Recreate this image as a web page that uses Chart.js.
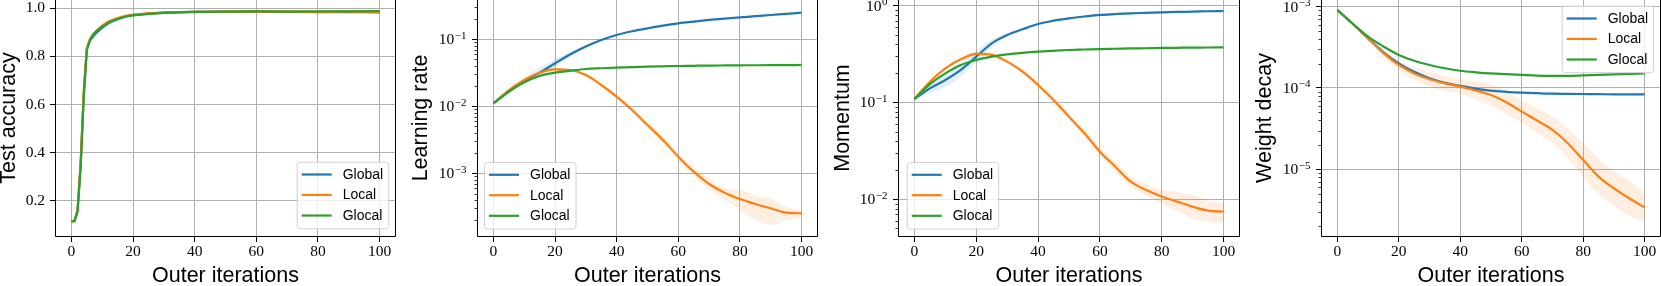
<!DOCTYPE html>
<html>
<head>
<meta charset="utf-8">
<script src="https://cdn.jsdelivr.net/npm/chart.js@4.4.1/dist/chart.umd.min.js"></script>
<style>
  html, body { margin: 0; padding: 0; background: #fff; overflow: hidden; width: 1661px; height: 286px; }
  canvas { position: absolute; top: 0; }
</style>
</head>
<body>
<canvas id="accChart"></canvas>
<canvas id="lrChart"></canvas>
<canvas id="momChart"></canvas>
<canvas id="wdChart"></canvas>
<script>
// ---- data ----
const seriesNames = ['Global', 'Local', 'Glocal'];
const seriesColors = ['#1f77b4', '#ff7f0e', '#2ca02c'];
const bandColors = ['rgba(31,119,180,0.12)', 'rgba(255,127,14,0.12)', 'rgba(44,160,44,0.12)'];

const xTicks = [0, 20, 40, 60, 80, 100];
const accTicks = [0.2, 0.4, 0.6, 0.8, 1.0];
const lrTicks = [1e-3, 1e-2, 1e-1];
const momTicks = [1e-2, 1e-1, 1e0];
const wdTicks = [1e-5, 1e-4, 1e-3];

// test accuracy
const accIters = [0, 1, 2, 3, 4, 5, 6, 7, 8, 10, 12, 14, 16, 18, 20, 25, 30, 35, 40, 50, 60, 70, 80, 90, 100];
const accGlobal = [0.115, 0.115, 0.16, 0.35, 0.64, 0.83, 0.865, 0.882, 0.897, 0.92, 0.938, 0.95, 0.96, 0.967, 0.972, 0.978, 0.982, 0.984, 0.985, 0.986, 0.986, 0.985, 0.984, 0.985, 0.983];
const accLocal = [0.115, 0.115, 0.16, 0.36, 0.66, 0.835, 0.872, 0.893, 0.906, 0.928, 0.945, 0.955, 0.964, 0.97, 0.974, 0.979, 0.982, 0.984, 0.985, 0.986, 0.986, 0.986, 0.985, 0.986, 0.985];
const accGlocal = [0.115, 0.115, 0.155, 0.34, 0.63, 0.827, 0.868, 0.889, 0.903, 0.924, 0.94, 0.951, 0.96, 0.967, 0.971, 0.977, 0.981, 0.983, 0.985, 0.986, 0.987, 0.986, 0.987, 0.987, 0.988];

// hyperparameter traces
const hpIters = [0, 5, 10, 15, 20, 25, 30, 35, 40, 45, 50, 55, 60, 65, 70, 75, 80, 85, 90, 95, 100];

const lrGlobal = [0.01109, 0.01656, 0.02388, 0.03177, 0.04385, 0.05970, 0.07780, 0.09772, 0.1161, 0.1318, 0.1459, 0.1603, 0.1734, 0.1841, 0.1945, 0.2042, 0.2128, 0.2213, 0.2307, 0.2399, 0.2500];
const lrGlobalLow = [0.01109, 0.01581, 0.02128, 0.02704, 0.03819, 0.05445, 0.07430, 0.09550, 0.1135, 0.1288, 0.1426, 0.1567, 0.1694, 0.1799, 0.1901, 0.1995, 0.2080, 0.2163, 0.2254, 0.2344, 0.2443];
const lrGlobalHigh = [0.01109, 0.01734, 0.02679, 0.03733, 0.05035, 0.06546, 0.08147, 0.1000, 0.1189, 0.1349, 0.1493, 0.1641, 0.1774, 0.1884, 0.1991, 0.2089, 0.2178, 0.2265, 0.2360, 0.2455, 0.2559];
const lrLocal = [0.01109, 0.01738, 0.02472, 0.03177, 0.03565, 0.03483, 0.02938, 0.02080, 0.01393, 0.008810, 0.005260, 0.003148, 0.001774, 0.001059, 0.0006934, 0.0005140, 0.0004140, 0.0003483, 0.0003006, 0.0002588, 0.0002529];
const lrLocalLow = [0.01109, 0.01698, 0.02388, 0.03034, 0.03404, 0.03327, 0.02805, 0.01963, 0.01300, 0.008035, 0.004688, 0.002742, 0.001545, 0.0009016, 0.0005768, 0.0003999, 0.0002838, 0.0002009, 0.0001694, 0.0002009, 0.0002254];
const lrLocalHigh = [0.01109, 0.01778, 0.02559, 0.03327, 0.03733, 0.03648, 0.03076, 0.02203, 0.01493, 0.009661, 0.005902, 0.003614, 0.002037, 0.001245, 0.0008337, 0.0005970, 0.0005636, 0.0004753, 0.0004236, 0.0003177, 0.0002838];
const lrGlocal = [0.01109, 0.01660, 0.02291, 0.02838, 0.03177, 0.03404, 0.03606, 0.03698, 0.03776, 0.03846, 0.03908, 0.03954, 0.03999, 0.04027, 0.04055, 0.04074, 0.04093, 0.04102, 0.04111, 0.04121, 0.04140];

const momGlobal = [0.1086, 0.1400, 0.1706, 0.2168, 0.2972, 0.4083, 0.4977, 0.5702, 0.6471, 0.6998, 0.7396, 0.7727, 0.8017, 0.8185, 0.8337, 0.8433, 0.8531, 0.8610, 0.8670, 0.8750, 0.8810];
const momGlobalLow = [0.1086, 0.1247, 0.1452, 0.1845, 0.2588, 0.3724, 0.4753, 0.5572, 0.6324, 0.6839, 0.7228, 0.7551, 0.7834, 0.7998, 0.8147, 0.8241, 0.8337, 0.8414, 0.8472, 0.8551, 0.8610];
const momGlobalHigh = [0.1086, 0.1570, 0.2004, 0.2547, 0.3412, 0.4477, 0.5212, 0.5834, 0.6622, 0.7161, 0.7568, 0.7907, 0.8204, 0.8375, 0.8531, 0.8630, 0.8730, 0.8810, 0.8872, 0.8954, 0.9016];
const momLocal = [0.1086, 0.1641, 0.2254, 0.2793, 0.3170, 0.3097, 0.2642, 0.2080, 0.1517, 0.1062, 0.07145, 0.04808, 0.03105, 0.02173, 0.01521, 0.01247, 0.01067, 0.009462, 0.008395, 0.007638, 0.007464];
const momLocalLow = [0.1086, 0.1603, 0.2178, 0.2667, 0.3027, 0.2958, 0.2523, 0.1986, 0.1432, 0.09908, 0.06668, 0.04436, 0.02831, 0.01936, 0.01355, 0.01086, 0.008954, 0.007464, 0.006368, 0.005875, 0.005649];
const momLocalHigh = [0.1086, 0.1679, 0.2333, 0.2924, 0.3319, 0.3243, 0.2767, 0.2178, 0.1607, 0.1138, 0.07656, 0.05212, 0.03404, 0.02438, 0.01706, 0.01432, 0.01247, 0.01199, 0.01109, 0.009840, 0.009099];
const momGlocal = [0.1086, 0.1549, 0.2000, 0.2438, 0.2748, 0.2972, 0.3141, 0.3258, 0.3350, 0.3420, 0.3483, 0.3524, 0.3565, 0.3589, 0.3614, 0.3631, 0.3656, 0.3673, 0.3690, 0.3698, 0.3715];

const wdGlobal = [9.10e-4, 6.17e-4, 4.08e-4, 2.75e-4, 2.01e-4, 1.58e-4, 1.32e-4, 1.16e-4, 1.06e-4, 9.84e-5, 9.27e-5, 8.97e-5, 8.77e-5, 8.63e-5, 8.51e-5, 8.47e-5, 8.43e-5, 8.39e-5, 8.36e-5, 8.36e-5, 8.36e-5];
const wdLocal = [9.10e-4, 6.17e-4, 4.08e-4, 2.69e-4, 1.92e-4, 1.51e-4, 1.28e-4, 1.14e-4, 1.04e-4, 9.33e-5, 8.20e-5, 6.67e-5, 5.12e-5, 3.98e-5, 3.05e-5, 2.09e-5, 1.30e-5, 8.13e-6, 5.83e-6, 4.40e-6, 3.41e-6];
const wdLocalLow = [9.10e-4, 6.03e-4, 3.90e-4, 2.45e-4, 1.67e-4, 1.26e-4, 1.04e-4, 9.27e-5, 8.43e-5, 7.24e-5, 6.08e-5, 4.83e-5, 3.71e-5, 2.82e-5, 2.11e-5, 1.38e-5, 8.04e-6, 4.90e-6, 3.52e-6, 2.71e-6, 2.19e-6];
const wdLocalHigh = [9.10e-4, 6.31e-4, 4.28e-4, 2.95e-4, 2.20e-4, 1.82e-4, 1.57e-4, 1.40e-4, 1.28e-4, 1.20e-4, 1.11e-4, 9.20e-5, 7.06e-5, 5.62e-5, 4.41e-5, 3.16e-5, 2.11e-5, 1.35e-5, 9.68e-6, 7.13e-6, 5.13e-6];
const wdGlocal = [9.10e-4, 6.17e-4, 4.28e-4, 3.24e-4, 2.55e-4, 2.16e-4, 1.92e-4, 1.75e-4, 1.63e-4, 1.56e-4, 1.51e-4, 1.48e-4, 1.45e-4, 1.42e-4, 1.41e-4, 1.41e-4, 1.43e-4, 1.45e-4, 1.47e-4, 1.49e-4, 1.51e-4];

// ---- drawing ----
const SERIF = '"Liberation Serif", "DejaVu Serif", serif';
const SANS = '"Liberation Sans", Arial, sans-serif';
const CANVAS_H = 287;
const PLOT_BOTTOM = 236;

const toPoints = (xs, ys) => xs.map((x, i) => ({ x, y: ys[i] }));

// spines, log minor ticks, mathtext-like log labels and the boxed legend
const frameAndLegend = {
  id: 'frameAndLegend',
  afterDraw(chart, args, opts) {
    const { ctx, chartArea: a } = chart;
    const ys = chart.scales.y;
    ctx.save();

    if (ys.type === 'logarithmic') {
      ctx.strokeStyle = '#000';
      ctx.lineWidth = 0.8;
      const lo = Math.floor(Math.log10(ys.min));
      const hi = Math.ceil(Math.log10(ys.max));
      for (let e = lo; e < hi; e++) {
        for (let k = 2; k < 10; k++) {
          const v = k * Math.pow(10, e);
          if (v < ys.min || v > ys.max) continue;
          const py = Math.round(ys.getPixelForValue(v)) + 0.5;
          ctx.beginPath();
          ctx.moveTo(a.left - 3.5, py);
          ctx.lineTo(a.left, py);
          ctx.stroke();
        }
      }
      ctx.fillStyle = '#000';
      ctx.textAlign = 'right';
      ctx.textBaseline = 'alphabetic';
      ys.ticks.forEach(t => {
        const py = ys.getPixelForValue(t.value);
        const exp = Math.round(Math.log10(t.value));
        const sup = (exp < 0 ? '\u2212' : '') + Math.abs(exp);
        const right = a.left - 11.5;
        ctx.font = '11px ' + SERIF;
        ctx.fillText(sup, right, py - 0.5);
        const sw = ctx.measureText(sup).width;
        ctx.font = '15.5px ' + SERIF;
        ctx.fillText('10', right - sw - 0.5, py + 5);
      });
    }

    // spines (top one falls outside the picture)
    ctx.strokeStyle = '#000';
    ctx.lineWidth = 1;
    ctx.beginPath();
    ctx.moveTo(a.left - 0.5, a.top);
    ctx.lineTo(a.left - 0.5, a.bottom + 0.5);
    ctx.lineTo(a.right + 0.5, a.bottom + 0.5);
    ctx.lineTo(a.right + 0.5, a.top);
    ctx.stroke();

    // legend
    const lg = opts.legend;
    const bx = a.left + lg.left, by = a.top + lg.top, bw = 91.5, bh = 66.5;
    ctx.beginPath();
    ctx.roundRect(bx + 0.5, by + 0.5, bw, bh, 3);
    ctx.fillStyle = 'rgba(255,255,255,0.8)';
    ctx.fill();
    ctx.strokeStyle = '#d0d0d0';
    ctx.lineWidth = 1;
    ctx.stroke();
    const rows = [12.8, 33.2, 53.8];
    ctx.font = '14px ' + SANS;
    ctx.textAlign = 'left';
    ctx.textBaseline = 'middle';
    seriesNames.forEach((name, i) => {
      const ry = by + rows[i];
      ctx.strokeStyle = seriesColors[i];
      ctx.lineWidth = 2.2;
      ctx.beginPath();
      ctx.moveTo(bx + 5, ry);
      ctx.lineTo(bx + 35, ry);
      ctx.stroke();
      ctx.fillStyle = '#000';
      ctx.fillText(name, bx + 46, ry + 0.5);
    });
    ctx.restore();
  }
};

function createPanel(config) {
  const {
    canvasId,
    left,
    width,
    yAxisWidth,
    titlePad,
    yType,
    yMin,
    yMax,
    yTicks,
    yTitle,
    xs,
    lines,
    bands = [],
    legend,
    smooth = true
  } = config;

  const canvas = document.getElementById(canvasId);
  canvas.width = width;
  canvas.height = CANVAS_H;
  canvas.style.left = left + 'px';

  const interp = smooth ? { cubicInterpolationMode: 'monotone' } : { tension: 0 };
  const datasets = [];

  bands.forEach(b => {
    datasets.push({
      data: toPoints(xs, b.low),
      borderColor: 'transparent',
      borderWidth: 0,
      pointRadius: 0,
      fill: false,
      order: 10,
      ...interp
    });
    datasets.push({
      data: toPoints(xs, b.high),
      borderColor: 'transparent',
      borderWidth: 0,
      pointRadius: 0,
      backgroundColor: bandColors[b.series],
      fill: '-1',
      order: 10,
      ...interp
    });
  });

  lines.forEach((ys, i) => {
    datasets.push({
      label: seriesNames[i],
      data: toPoints(xs, ys),
      borderColor: seriesColors[i],
      borderWidth: 2.2,
      pointRadius: 0,
      fill: false,
      order: 3 - i,
      ...interp
    });
  });

  const isLog = yType === 'logarithmic';

  return new Chart(canvas, {
    type: 'line',
    data: { datasets },
    options: {
      responsive: false,
      animation: false,
      devicePixelRatio: 1,
      layout: { padding: { top: 0, right: 1, bottom: 0, left: 0 } },
      plugins: {
        legend: { display: false },
        tooltip: { enabled: false },
        frameAndLegend: { legend }
      },
      scales: {
        x: {
          type: 'linear',
          min: -5,
          max: 105,
          afterBuildTicks: s => { s.ticks = xTicks.map(v => ({ value: v })); },
          afterFit: s => { s.height = CANVAS_H - PLOT_BOTTOM; s.paddingLeft = 0; s.paddingRight = 0; },
          ticks: {
            autoSkip: false,
            maxRotation: 0,
            padding: 1,
            color: '#000',
            font: { family: SERIF, size: 15.5 }
          },
          grid: { color: '#b0b0b0', lineWidth: 1, tickColor: '#000', tickLength: 6, tickWidth: 1 },
          border: { display: false },
          title: {
            display: true,
            text: 'Outer iterations',
            color: '#000',
            font: { family: SANS, size: 21.5, lineHeight: 1 },
            padding: { top: 0, bottom: 0 }
          }
        },
        y: {
          type: yType,
          min: yMin,
          max: yMax,
          afterBuildTicks: s => { s.ticks = yTicks.map(v => ({ value: v })); },
          afterFit: s => { s.width = yAxisWidth; s.paddingTop = 0; s.paddingBottom = 0; },
          ticks: {
            display: !isLog,
            autoSkip: false,
            padding: 5,
            color: '#000',
            font: { family: SERIF, size: 15.5 },
            callback: v => Number(v).toFixed(1)
          },
          grid: { color: '#b0b0b0', lineWidth: 1, tickColor: '#000', tickLength: 6, tickWidth: 1 },
          border: { display: false },
          title: {
            display: true,
            text: yTitle,
            color: '#000',
            font: { family: SANS, size: 21.5, lineHeight: 1 },
            padding: { top: titlePad, bottom: 0 }
          }
        }
      }
    },
    plugins: [frameAndLegend]
  });
}

createPanel({
  canvasId: 'accChart',
  left: 0, width: 396, yAxisWidth: 56, titlePad: -2,
  yType: 'linear', yMin: 0.0528, yMax: 1.0347, yTicks: accTicks,
  yTitle: 'Test accuracy',
  xs: accIters,
  lines: [accGlobal, accLocal, accGlocal],
  legend: { left: 240.7, top: 161.7 },
  smooth: false
});

createPanel({
  canvasId: 'lrChart',
  left: 410, width: 408, yAxisWidth: 68, titlePad: 0,
  yType: 'logarithmic', yMin: 1.161e-4, yMax: 0.386, yTicks: lrTicks,
  yTitle: 'Learning rate',
  xs: hpIters,
  lines: [lrGlobal, lrLocal, lrGlocal],
  bands: [
    { series: 0, low: lrGlobalLow, high: lrGlobalHigh },
    { series: 1, low: lrLocalLow, high: lrLocalHigh }
  ],
  legend: { left: 6, top: 162 }
});

createPanel({
  canvasId: 'momChart',
  left: 830, width: 410, yAxisWidth: 69, titlePad: 2,
  yType: 'logarithmic', yMin: 4.18e-3, yMax: 1.144, yTicks: momTicks,
  yTitle: 'Momentum',
  xs: hpIters,
  lines: [momGlobal, momLocal, momGlocal],
  bands: [
    { series: 0, low: momGlobalLow, high: momGlobalHigh },
    { series: 1, low: momLocalLow, high: momLocalHigh }
  ],
  legend: { left: 7.7, top: 162 }
});

createPanel({
  canvasId: 'wdChart',
  left: 1250, width: 411, yAxisWidth: 72, titlePad: 4,
  yType: 'logarithmic', yMin: 1.513e-6, yMax: 1.208e-3, yTicks: wdTicks,
  yTitle: 'Weight decay',
  xs: hpIters,
  lines: [wdGlobal, wdLocal, wdGlocal],
  bands: [
    { series: 1, low: wdLocalLow, high: wdLocalHigh }
  ],
  legend: { left: 239.7, top: 5.7 }
});
</script>
</body>
</html>
